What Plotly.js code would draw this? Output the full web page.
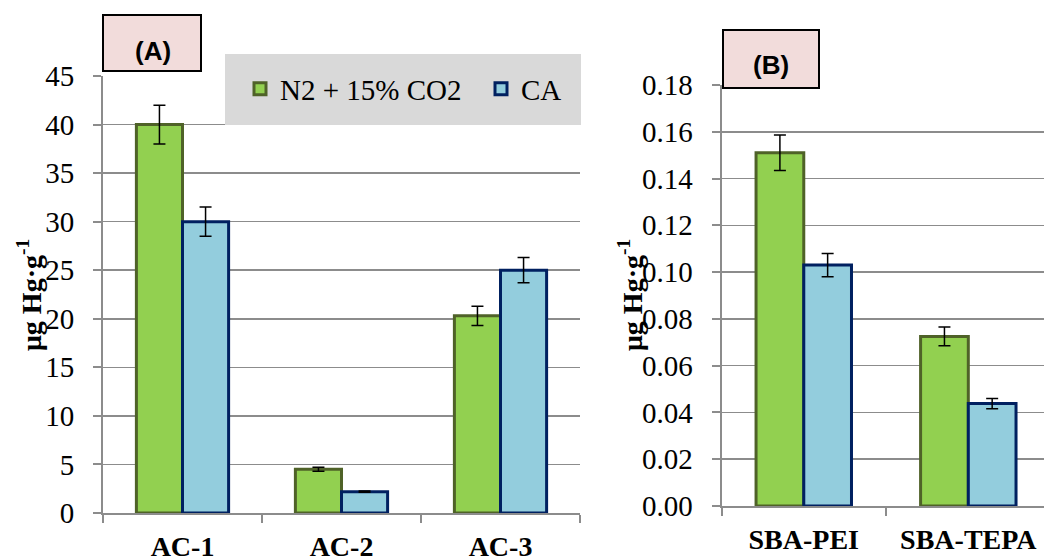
<!DOCTYPE html>
<html>
<head>
<meta charset="utf-8">
<script src="https://cdn.plot.ly/plotly-3.0.1.min.js"></script>
<style>html,body{margin:0;padding:0;background:#fff}#chart{width:1044px;height:558px}</style>
</head>
<body>
<div id="chart"></div>
<script>
// ---- data ----
const catsA = ["AC-1", "AC-2", "AC-3"];
const n2A = [40.0, 4.5, 20.3];
const n2AErr = [2.0, 0.2, 1.0];
const caA = [30.0, 2.2, 25.0];
const caAErr = [1.5, 0.06, 1.3];

const catsB = ["SBA-PEI", "SBA-TEPA"];
const n2B = [0.151, 0.0725];
const n2BErr = [0.0076, 0.004];
const caB = [0.103, 0.0438];
const caBErr = [0.005, 0.0022];

const seriesNames = ["N2 + 15% CO2", "CA"];
const yTitle = "μg Hg·g<sup>-1</sup>";

// ---- styling ----
const W = 1044, H = 558;
const px = x => x / W;
const py = y => 1 - y / H;
const greenFill = "#92D050", greenLine = "#4F6228";
const blueFill = "#93CDDD", blueLine = "#002060";
const gridC = "#8c8c8c";
const serif = "Liberation Serif";
const sans = "Liberation Sans";

function barTrace(x, y, err, name, fill, line, xa, ya, showlegend) {
  return {
    type: "bar", x: x, y: y, name: name, xaxis: xa, yaxis: ya,
    showlegend: showlegend, legendgroup: name,
    marker: {color: fill, line: {color: line, width: 3}},
    error_y: {type: "data", array: err, visible: true, color: "#000", thickness: 1.5, width: 6}
  };
}

const data = [
  barTrace(catsA, n2A, n2AErr, seriesNames[0], greenFill, greenLine, "x", "y", true),
  barTrace(catsA, caA, caAErr, seriesNames[1], blueFill, blueLine, "x", "y", true),
  barTrace(catsB, n2B, n2BErr, seriesNames[0], greenFill, greenLine, "x2", "y2", false),
  barTrace(catsB, caB, caBErr, seriesNames[1], blueFill, blueLine, "x2", "y2", false)
];

const xCommon = {
  type: "category", showgrid: false, showline: true, linecolor: gridC, linewidth: 2,
  ticks: "outside", tickson: "boundaries", ticklen: 8, tickcolor: gridC, tickwidth: 2,
  tickfont: {family: serif, size: 28, color: "#000", weight: 700},
  ticklabelstandoff: 7,
  zeroline: false, fixedrange: true
};
const yCommon = {
  showgrid: true, gridcolor: gridC, gridwidth: 1.5, showline: true, linecolor: gridC, linewidth: 2,
  ticks: "outside", ticklen: 8, tickcolor: gridC, tickwidth: 2,
  tickfont: {family: serif, size: 29, color: "#000"}, ticklabelstandoff: 13,
  zeroline: false, fixedrange: true
};

const layout = {
  width: W, height: H,
  margin: {l: 0, r: 0, t: 0, b: 0},
  paper_bgcolor: "#fff", plot_bgcolor: "rgba(0,0,0,0)",
  font: {family: serif, color: "#000"},
  barmode: "group", bargap: 0.42, bargroupgap: 0,
  xaxis: Object.assign({}, xCommon, {domain: [px(103), px(580)], range: [-0.5, 2.5], anchor: "y"}),
  yaxis: Object.assign({}, yCommon, {domain: [py(513), py(76)], range: [0, 45], dtick: 5, anchor: "x"}),
  xaxis2: Object.assign({}, xCommon, {domain: [px(721.5), 1], range: [-0.5, 1.46], anchor: "y2"}),
  yaxis2: Object.assign({}, yCommon, {domain: [py(506), py(85)], range: [0, 0.18], dtick: 0.02, tickformat: ".2f", anchor: "x2"}),
  showlegend: true,
  legend: {
    orientation: "h", x: px(240), y: py(89), xanchor: "left", yanchor: "middle",
    entrywidth: 196, entrywidthmode: "pixels",
    bgcolor: "rgba(0,0,0,0)", font: {family: serif, size: 29, color: "#000"}
  },
  shapes: [
    {type: "rect", xref: "paper", yref: "paper", x0: px(225), x1: px(581), y0: py(125), y1: py(54),
     fillcolor: "#D9D9D9", line: {width: 0}, layer: "above"},
    {type: "rect", xref: "paper", yref: "paper", x0: px(103), x1: px(201), y0: py(71), y1: py(15),
     fillcolor: "#F2DCDB", line: {color: "#000", width: 2}, layer: "above"},
    {type: "rect", xref: "paper", yref: "paper", x0: px(723), x1: px(819), y0: py(88), y1: py(30),
     fillcolor: "#F2DCDB", line: {color: "#000", width: 2}, layer: "above"}
  ],
  annotations: [
    {xref: "paper", yref: "paper", x: px(153), y: py(51), text: "<b>(A)</b>", showarrow: false,
     xanchor: "center", yanchor: "middle", font: {family: sans, size: 26, color: "#000"}},
    {xref: "paper", yref: "paper", x: px(771), y: py(65), text: "<b>(B)</b>", showarrow: false,
     xanchor: "center", yanchor: "middle", font: {family: sans, size: 26, color: "#000"}},
    {xref: "paper", yref: "paper", x: px(29), y: py(295), text: "<b>" + yTitle + "</b>", showarrow: false, textangle: -90,
     xanchor: "center", yanchor: "middle", font: {family: serif, size: 28, color: "#000"}},
    {xref: "paper", yref: "paper", x: px(630), y: py(295), text: "<b>" + yTitle + "</b>", showarrow: false, textangle: -90,
     xanchor: "center", yanchor: "middle", font: {family: serif, size: 28, color: "#000"}}
  ]
};

Plotly.newPlot("chart", data, layout, {displayModeBar: false, staticPlot: true});
</script>
</body>
</html>
